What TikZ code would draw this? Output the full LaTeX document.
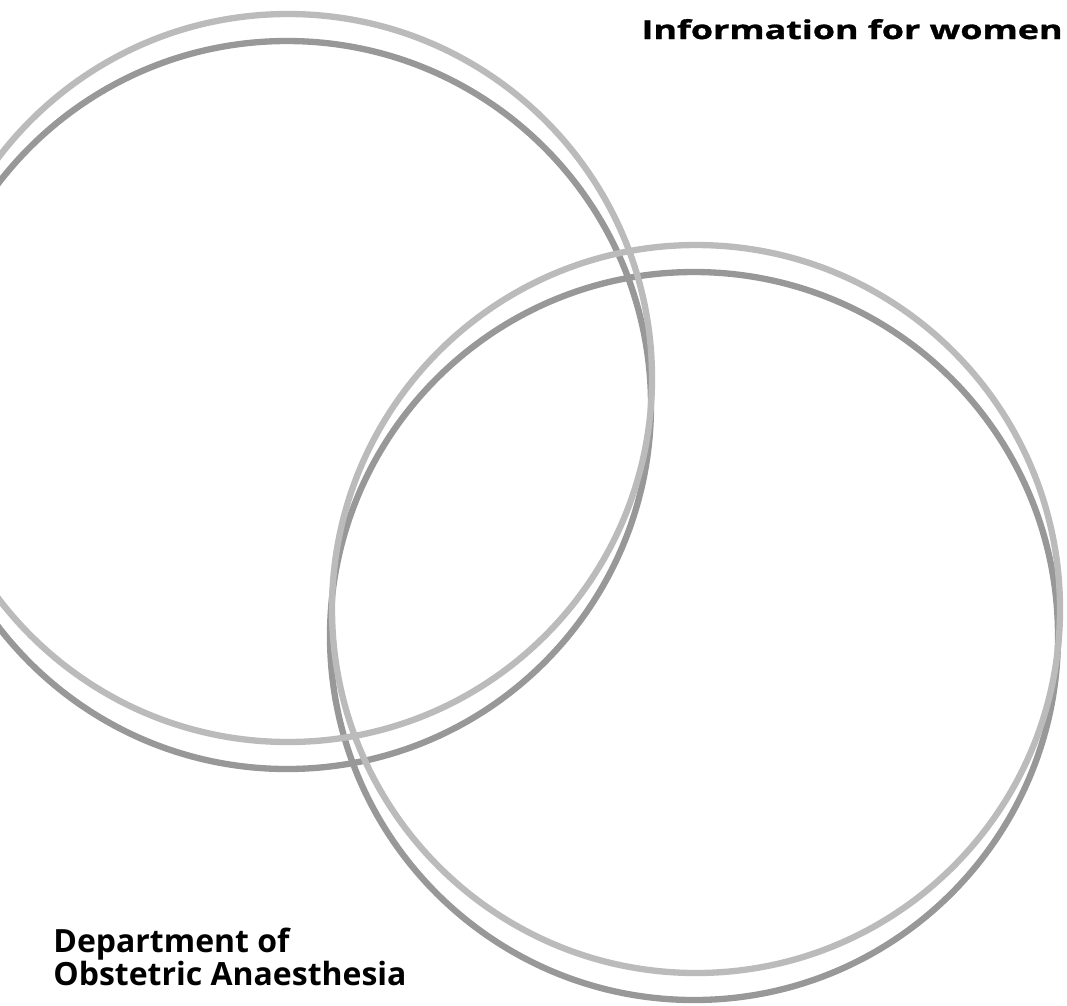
\documentclass[tikz,border=0pt]{standalone}
\usepackage{fontspec}
\setmainfont{Open Sans}
\newfontfamily\titlefont[FakeStretch=1.38, FakeBold=1.2]{Open Sans}
\usepackage{tikz}

\definecolor{ringlight}{RGB}{187,187,187}
\definecolor{ringdark}{RGB}{152,152,152}

\begin{document}
\begin{tikzpicture}[x=0.02cm,y=-0.02cm,
  lightring/.style={draw=ringlight, line width=3.6pt},
  darkring/.style={draw=ringdark, line width=3.6pt}]
\useasboundingbox (0,0) rectangle (1067,1005);
\clip (0,0) rectangle (1067,1005);
% Dark rings
\draw[darkring] (287,405) circle[radius=364];
\draw[darkring] (694,636) circle[radius=364];
% Light rings
\draw[lightring] (288,378) circle[radius=364];
\draw[lightring] (696,609) circle[radius=364];
% Titles
\node[anchor=base east, inner sep=0pt, font=\titlefont\fontsize{14.8}{17}\selectfont\bfseries] (title) at (1063,39) {Information for women};
\node[anchor=base west, inner sep=0pt, font=\fontsize{18.2}{22}\selectfont\bfseries] (deptA) at (53,952) {Department of};
\node[anchor=base west, inner sep=0pt, font=\fontsize{18.2}{22}\selectfont\bfseries] (deptB) at (53,985) {Obstetric Anaesthesia};
\end{tikzpicture}
\end{document}
